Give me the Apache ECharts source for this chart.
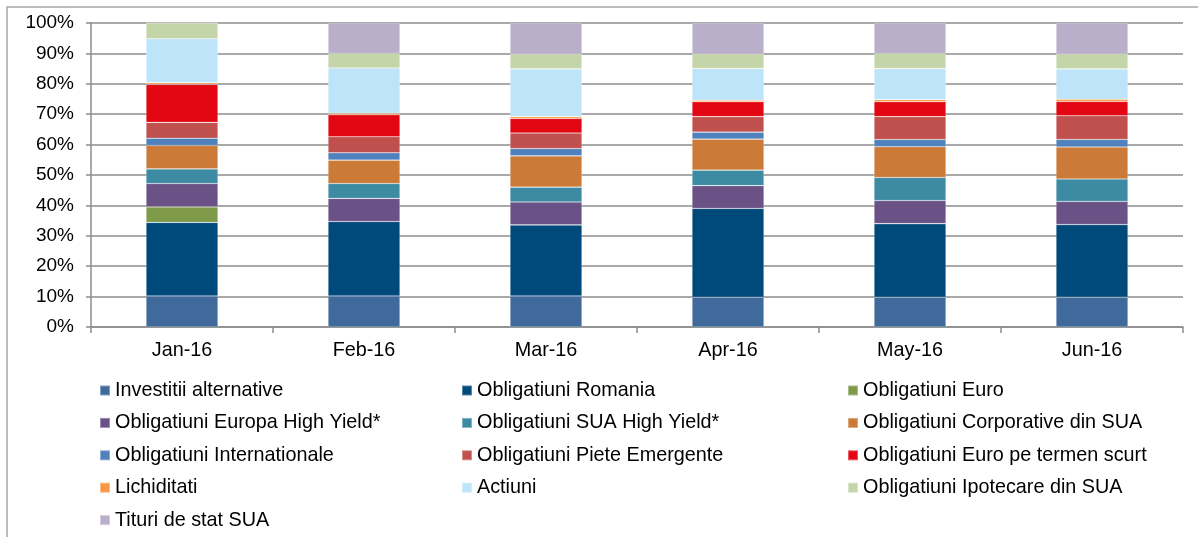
<!DOCTYPE html>
<html>
<head>
<meta charset="utf-8">
<script src="https://cdn.jsdelivr.net/npm/echarts@6/dist/echarts.min.js"></script>
<style>
html,body{margin:0;padding:0;background:#fff;}
#chart{width:1198px;height:537px;}
</style>
</head>
<body>
<div id="chart"></div>
<script>
const categories = ['Jan-16','Feb-16','Mar-16','Apr-16','May-16','Jun-16'];
const yTicks = ['0%','10%','20%','30%','40%','50%','60%','70%','80%','90%','100%'];

const investitiiAlternative   = [10.2, 10.2, 10.2,  9.8,  9.8,  9.8];
const obligRomania            = [24.2, 24.5, 23.4, 29.2, 24.2, 23.9];
const obligEuro               = [ 5.1,  0.0,  0.0,  0.0,  0.0,  0.0];
const obligEuropaHY           = [ 7.7,  7.6,  7.5,  7.5,  7.6,  7.6];
const obligSuaHY              = [ 4.8,  4.9,  4.9,  5.1,  7.6,  7.4];
const obligCorporativeSua     = [ 7.7,  7.7, 10.3, 10.2, 10.1, 10.5];
const obligInternationale     = [ 2.4,  2.4,  2.4,  2.3,  2.4,  2.5];
const obligPieteEmergente     = [ 5.2,  5.3,  5.1,  5.1,  7.5,  7.8];
const obligEuroTermenScurt    = [12.5,  7.2,  4.8,  4.9,  4.9,  4.7];
const lichiditati             = [ 0.6,  0.5,  0.6,  0.5,  0.7,  0.7];
const actiuni                 = [14.4, 14.9, 15.7, 10.4, 10.2, 10.0];
const obligIpotecareSua       = [ 5.2,  4.8,  4.8,  4.8,  5.0,  4.9];
const titluriStatSua          = [ 0.0, 10.0, 10.3, 10.2, 10.0, 10.2];

const seriesDefs = [
  ['Investitii alternative', investitiiAlternative, '#416A9C'],
  ['Obligatiuni Romania', obligRomania, '#004A7B'],
  ['Obligatiuni Euro', obligEuro, '#7F9A48'],
  ['Obligatiuni Europa High Yield*', obligEuropaHY, '#6A5186'],
  ['Obligatiuni SUA High Yield*', obligSuaHY, '#3D8BA3'],
  ['Obligatiuni Corporative din SUA', obligCorporativeSua, '#CB7A37'],
  ['Obligatiuni Internationale', obligInternationale, '#4F81BD'],
  ['Obligatiuni Piete Emergente', obligPieteEmergente, '#C0504D'],
  ['Obligatiuni Euro pe termen scurt', obligEuroTermenScurt, '#E30613'],
  ['Lichiditati', lichiditati, '#F79646'],
  ['Actiuni', actiuni, '#BDE4F8'],
  ['Obligatiuni Ipotecare din SUA', obligIpotecareSua, '#C4D6A9'],
  ['Tituri de stat SUA', titluriStatSua, '#B9AFCB']
];

const col1 = ['Investitii alternative','Obligatiuni Europa High Yield*','Obligatiuni Internationale','Lichiditati','Tituri de stat SUA'];
const col2 = ['Obligatiuni Romania','Obligatiuni SUA High Yield*','Obligatiuni Piete Emergente','Actiuni'];
const col3 = ['Obligatiuni Euro','Obligatiuni Corporative din SUA','Obligatiuni Euro pe termen scurt','Obligatiuni Ipotecare din SUA'];

const FONT = '"Liberation Sans", Arial, sans-serif';

function legendCol(left, data){
  return {
    orient: 'vertical', left: left, top: 380.5,
    data: data, icon: 'rect', itemWidth: 10, itemHeight: 10,
    itemGap: 12.4, selectedMode: false,
    textStyle: {fontFamily: FONT, fontSize: 19.8, color: '#000', lineHeight: 20, padding: [0,0,0,0]},
    padding: 0
  };
}

const chart = echarts.init(document.getElementById('chart'), null, {renderer: 'canvas'});
chart.setOption({
  animation: false,
  backgroundColor: '#fff',
  grid: {left: 91, right: 15, top: 23, bottom: 210, containLabel: false},
  legend: [legendCol(99, col1), legendCol(461, col2), legendCol(847, col3)],
  graphic: [{
    type: 'rect', shape: {x: 7, y: 7, width: 1300, height: 700},
    style: {fill: 'none', stroke: '#a6a6a6', lineWidth: 1.5}, silent: true, z: -1
  }],
  xAxis: {
    type: 'category', data: categories,
    axisLine: {lineStyle: {color: '#8c8c8c', width: 1.5}},
    axisTick: {show: true, length: 6, lineStyle: {color: '#8c8c8c', width: 1.5}},
    axisLabel: {fontFamily: FONT, fontSize: 19.8, color: '#000', margin: 14}
  },
  yAxis: {
    type: 'value', min: 0, max: 100, interval: 10,
    axisLine: {show: true, lineStyle: {color: '#8c8c8c', width: 1.5}},
    axisTick: {show: true, length: 5, lineStyle: {color: '#8c8c8c', width: 1.5}},
    splitLine: {show: true, lineStyle: {color: '#8c8c8c', width: 1.5}},
    axisLabel: {fontFamily: FONT, fontSize: 19, color: '#000', margin: 17,
      formatter: function(v){ return yTicks[Math.round(v/10)]; }}
  },
  series: seriesDefs.map(function(d){
    return {
      name: d[0], type: 'bar', stack: 'total', data: d[1], barWidth: 72,
      itemStyle: {color: d[2], borderColor: 'rgba(255,255,255,0.35)', borderWidth: 0.6},
      emphasis: {disabled: true}
    };
  })
});
</script>
</body>
</html>
